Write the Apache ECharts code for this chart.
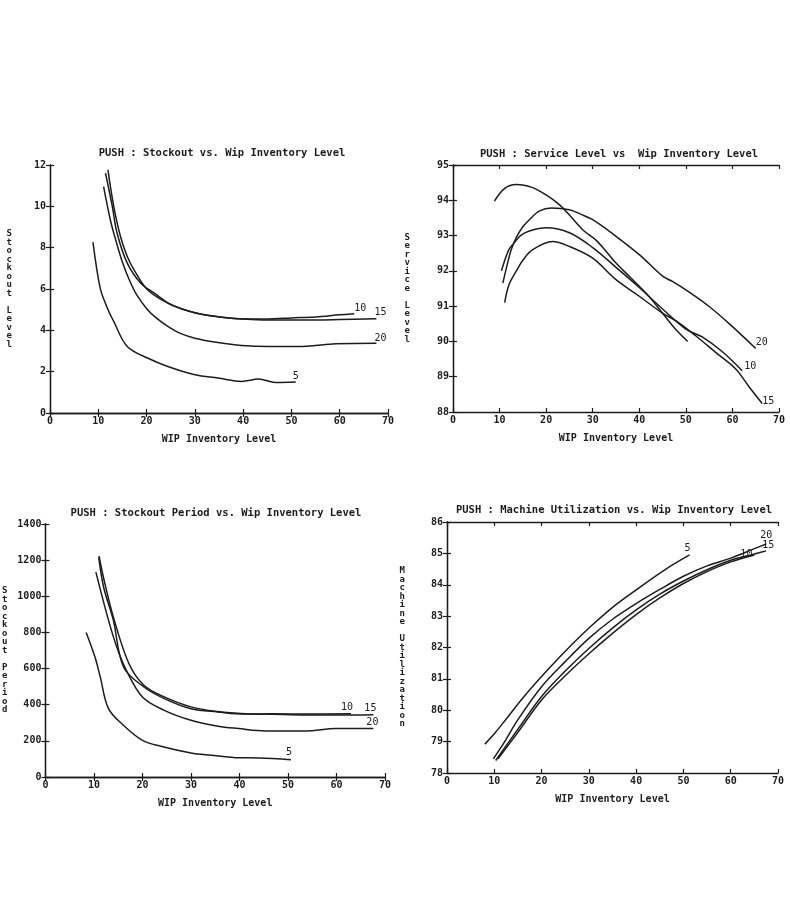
<!DOCTYPE html>
<html>
<head>
<meta charset="utf-8">
<script src="https://cdn.jsdelivr.net/npm/echarts@6/dist/echarts.min.js"></script>
<style>
html, body { margin: 0; background: #fff; }
#main { width: 790px; height: 907px; }
</style>
</head>
<body>
<div id="main"></div>
<script>
// values: [WIP inventory level, value]
// --- PUSH : Stockout vs. Wip Inventory Level
const stock5 = [[8.9,8.27],[10.4,6.04],[11.8,5.12],[13.2,4.43],[16,3.22],[20.2,2.66],[24.4,2.25],[30,1.85],[34.8,1.69],[39.7,1.53],[43.2,1.64],[46.7,1.48],[50.9,1.5]];
const stock10 = [[11.5,11.6],[12.9,10.0],[13.9,8.7],[16,7.25],[18.8,6.28],[21.6,5.8],[25,5.25],[30,4.85],[35,4.65],[40,4.55],[45,4.55],[50,4.6],[55,4.65],[60,4.75],[63,4.8]];
const stock15 = [[12,11.76],[13.2,10.0],[14.6,8.54],[16,7.57],[17.4,6.93],[20.2,5.96],[24.4,5.32],[30,4.85],[35,4.65],[40,4.55],[45,4.5],[50,4.5],[55,4.5],[60,4.52],[67.6,4.56]];
const stock20 = [[11.1,10.95],[12.5,9.34],[13.6,8.38],[15,7.3],[16.5,6.4],[18,5.7],[20.2,5.0],[22,4.6],[24.4,4.19],[27,3.85],[30,3.62],[34.8,3.41],[39.7,3.27],[45.3,3.22],[52.3,3.22],[59.2,3.35],[67.6,3.38]];

// --- PUSH : Service Level vs Wip Inventory Level
const serv5 = [[8.9,93.98],[11.1,94.34],[13.6,94.45],[17.1,94.36],[20,94.15],[22.9,93.87],[25,93.58],[27.9,93.16],[30.7,92.87],[32.9,92.55],[35,92.22],[37.9,91.84],[40,91.56],[42.1,91.27],[45,90.8],[47.9,90.33],[50.4,90.0]];
const serv10 = [[10.4,92.0],[12,92.6],[13.2,92.8],[14.5,93.0],[16.4,93.13],[20,93.22],[25,93.08],[30,92.66],[35,92.1],[40,91.53],[45,90.92],[50,90.35],[53.6,90.12],[57.9,89.7],[62.1,89.17]];
const serv15 = [[11.1,91.1],[12,91.6],[13.6,92.0],[15,92.3],[17.1,92.6],[21.4,92.83],[25,92.69],[30,92.36],[35,91.75],[40,91.28],[45,90.8],[47.9,90.58],[52.1,90.16],[56.4,89.69],[60.7,89.22],[63.6,88.71],[66.4,88.24]];
const serv20 = [[10.7,91.65],[11.5,92.1],[12.5,92.6],[13.6,92.95],[15,93.25],[16.4,93.45],[18.6,93.7],[21.1,93.78],[25,93.73],[27.5,93.6],[30,93.45],[35,92.98],[40,92.46],[45,91.85],[47.1,91.7],[50,91.46],[55,90.99],[60,90.42],[65,89.8]];

// --- PUSH : Stockout Period vs. Wip Inventory Level
const period5 = [[8.4,800],[10.2,665],[11.3,554],[13,378],[16.1,286],[20,203],[23.8,170],[30,133],[34.2,120],[39.1,107],[44,105],[50.6,96]];
const period10 = [[11,1215],[12,1050],[14,868],[16.1,609],[20.3,498],[24.5,434],[30,378],[35.6,360],[41.2,348],[46.7,350],[53.7,348],[63,350]];
const period15 = [[11.05,1223],[12,1100],[14,886],[17.2,628],[20.3,508],[24.5,443],[30,388],[35.6,362],[41.2,350],[46.7,347],[53.7,343],[60.6,343],[67.6,345]];
const period20 = [[10.4,1134],[13,868],[14.7,720],[16.5,600],[20,443],[24.5,369],[30,314],[35.6,281],[39.8,268],[45.3,255],[53.7,255],[59.9,268],[67.6,268]];

// --- PUSH : Machine Utilization vs. Wip Inventory Level
const util5 = [[8,78.92],[10,79.25],[12.4,79.7],[16.3,80.44],[21.3,81.29],[26.3,82.08],[30.6,82.7],[35.6,83.35],[40.6,83.9],[46.3,84.5],[51.3,84.95]];
const util10 = [[10.8,78.45],[15,79.3],[20,80.33],[25,81.1],[30,81.8],[35,82.45],[40,83.05],[45,83.58],[50,84.04],[55,84.42],[60,84.73],[65,84.95]];
const util15 = [[10.3,78.4],[15,79.4],[20,80.44],[25,81.25],[30,81.97],[35,82.62],[40,83.2],[45,83.7],[50,84.12],[55,84.48],[60,84.78],[65,84.98],[67.5,85.08]];
const util20 = [[9.8,78.45],[12,78.95],[15,79.7],[20,80.75],[25,81.55],[30,82.29],[35,82.9],[40,83.4],[45,83.85],[50,84.27],[55,84.6],[60,84.85],[65,85.15],[67.5,85.3]];

const xRange = [0, 70, 10];
const yRanges = [[0, 12, 2], [88, 95, 1], [0, 1400, 200], [78, 86, 1]];
const titles = [
    'PUSH : Stockout vs. Wip Inventory Level',
    'PUSH : Service Level vs  Wip Inventory Level',
    'PUSH : Stockout Period vs. Wip Inventory Level',
    'PUSH : Machine Utilization vs. Wip Inventory Level'
];
const yNames = ['Stockout Level', 'Service Level', 'Stockout Period', 'Machine Utilization'];
const xName = 'WIP Inventory Level';

const FONT = 'DejaVu Sans Mono';
const INK = '#1c1c1c';

const grids = [
    {left: 50, top: 165, width: 338, height: 248},
    {left: 453, top: 165, width: 326, height: 247},
    {left: 43, top: 524, width: 342, height: 253},
    {left: 447, top: 522, width: 331, height: 251}
];
const titlePos = [[222, 153], [619, 154], [216, 513], [614, 510]];
const yNameGap = [38, 43, 38, 42];

let xAxes = [];
let yAxes = [];
grids.forEach((g, i) => {
    const axLine = {show: true, lineStyle: {color: INK, width: 1.3}};
    const tick = {show: true, inside: true, length: 4, lineStyle: {color: INK, width: 1.2}};
    xAxes.push({
        type: 'value', gridIndex: i, min: xRange[0], max: xRange[1], interval: xRange[2],
        axisLine: axLine, axisTick: tick, splitLine: {show: false},
        axisLabel: {fontFamily: FONT, fontWeight: 'bold', fontSize: 10, color: INK, margin: 3},
        name: xName, nameLocation: 'middle', nameGap: 21,
        nameTextStyle: {fontFamily: FONT, fontWeight: 'bold', fontSize: 10, color: INK}
    });
    xAxes.push({
        type: 'value', gridIndex: i, position: 'top', min: xRange[0], max: xRange[1], interval: xRange[2],
        axisLine: axLine, axisTick: tick, axisLabel: {show: false}, splitLine: {show: false}
    });
    yAxes.push({
        type: 'value', gridIndex: i, min: yRanges[i][0], max: yRanges[i][1], interval: yRanges[i][2],
        axisLine: axLine, axisTick: tick, splitLine: {show: false},
        axisLabel: {fontFamily: FONT, fontWeight: 'bold', fontSize: 10, color: INK, margin: 4,
            formatter: (v) => String(v)},
        name: yNames[i].split('').join('\n'), nameLocation: 'middle', nameRotate: 0, nameGap: yNameGap[i],
        nameTextStyle: {fontFamily: FONT, fontWeight: 'bold', fontSize: 9, lineHeight: 8.5, color: INK}
    });
    yAxes.push({
        type: 'value', gridIndex: i, position: 'right', min: yRanges[i][0], max: yRanges[i][1], interval: yRanges[i][2],
        axisLine: axLine, axisTick: tick, axisLabel: {show: false}, splitLine: {show: false}
    });
});

function curve(data, gi, label, offset) {
    return {
        type: 'line', xAxisIndex: gi * 2, yAxisIndex: gi * 2, data: data,
        showSymbol: false, smooth: 0.35,
        lineStyle: {color: INK, width: 1.5},
        endLabel: {
            show: !!label, formatter: label || '', distance: 0, offset: offset || [0, 0],
            fontFamily: FONT, fontSize: 10, color: INK
        },
        silent: true
    };
}

const series = [
    curve(stock5, 0, '5', [-3, -6]),
    curve(stock10, 0, '10', [0, -5]),
    curve(stock15, 0, '15', [-2, -6]),
    curve(stock20, 0, '20', [-2, -5]),
    curve(serv5, 1, '', null),
    curve(serv10, 1, '10', [2, -4]),
    curve(serv15, 1, '15', [0, -2]),
    curve(serv20, 1, '20', [0, -6]),
    curve(period5, 2, '5', [-5, -7]),
    curve(period10, 2, '10', [-10, -6]),
    curve(period15, 2, '15', [-9, -6]),
    curve(period20, 2, '20', [-7, -6]),
    curve(util5, 3, '5', [-5, -7]),
    curve(util10, 3, '10', [-14, -1]),
    curve(util15, 3, '15', [-4, -5]),
    curve(util20, 3, '20', [-6, -9])
];

const graphic = titles.map((t, i) => ({
    type: 'text', x: titlePos[i][0], y: titlePos[i][1],
    style: {text: t, fontFamily: FONT, fontWeight: 'bold', fontSize: 10.5, fill: INK, align: 'center', verticalAlign: 'middle'}
}));

const myChart = echarts.init(document.getElementById('main'));
myChart.setOption({
    backgroundColor: '#fff',
    animation: false,
    grid: grids,
    xAxis: xAxes,
    yAxis: yAxes,
    series: series,
    graphic: graphic
});
</script>
</body>
</html>
